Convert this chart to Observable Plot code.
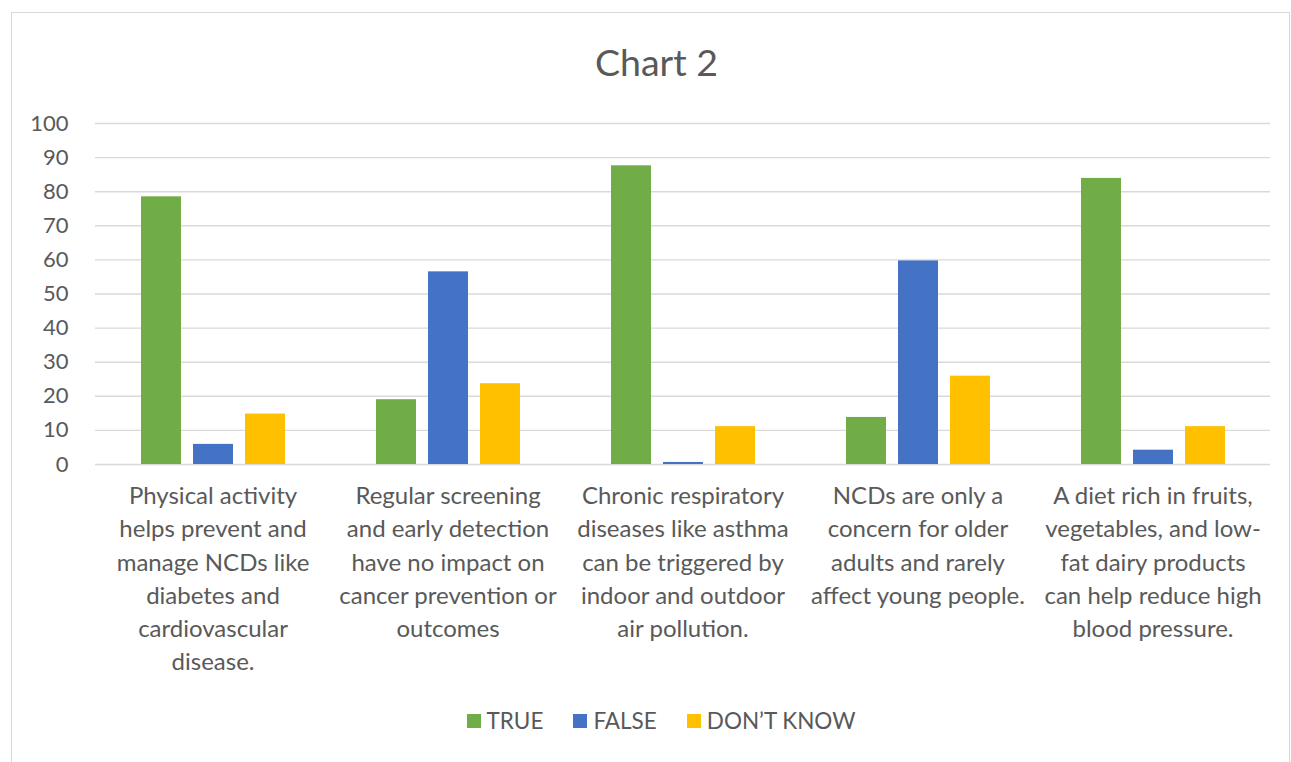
<!DOCTYPE html>
<html>
<head>
<meta charset="utf-8">
<script src="https://cdn.jsdelivr.net/npm/d3@7"></script>
<script src="https://cdn.jsdelivr.net/npm/@observablehq/plot@0.6"></script>
<style>
  html, body { margin: 0; padding: 0; background: #fff; }
  body { width: 1291px; height: 762px; position: relative; overflow: hidden;
         font-family: Lato, "Open Sans", sans-serif; color: #595959; }
  #frame { position: absolute; left: 11px; top: 12px; width: 1279px; height: 752px;
           box-sizing: border-box; border: 1px solid #d9d9d9; background: #fff; }
  #title { position: absolute; left: 12px; right: 0; top: 26px; text-align: center;
           font-size: 37.5px; color: #595959; }
  #chart { position: absolute; left: 0; top: 88px; }
  #legend { position: absolute; left: 21px; right: 0; top: 694px; display: flex;
            justify-content: center; gap: 30px; font-size: 22.5px; color: #595959; }
  .item { display: flex; align-items: center; gap: 6px; }
  .sw { width: 14px; height: 14px; display: inline-block; }
</style>
</head>
<body>
<div id="frame">
  <div id="title">Chart 2</div>
  <div id="chart"></div>
  <div id="legend"></div>
</div>
<script>
// Statements asked about, and the wrapped text shown under each group
const categories = [
  "Physical activity helps prevent and manage NCDs like diabetes and cardiovascular disease.",
  "Regular screening and early detection have no impact on cancer prevention or outcomes",
  "Chronic respiratory diseases like asthma can be triggered by indoor and outdoor air pollution.",
  "NCDs are only a concern for older adults and rarely affect young people.",
  "A diet rich in fruits, vegetables, and low-fat dairy products can help reduce high blood pressure."
];
const categoryLabels = [
  "Physical activity\nhelps prevent and\nmanage NCDs like\ndiabetes and\ncardiovascular\ndisease.",
  "Regular screening\nand early detection\nhave no impact on\ncancer prevention or\noutcomes",
  "Chronic respiratory\ndiseases like asthma\ncan be triggered by\nindoor and outdoor\nair pollution.",
  "NCDs are only a\nconcern for older\nadults and rarely\naffect young people.",
  "A diet rich in fruits,\nvegetables, and low-\nfat dairy products\ncan help reduce high\nblood pressure."
];

// Answer series and their percentages per statement
const series = ["TRUE", "FALSE", "DON\u2019T KNOW"];
const trueValues     = [78.5, 19.0, 87.6, 13.8, 83.9];
const falseValues    = [5.9, 56.5, 0.6, 59.7, 4.2];
const dontKnowValues = [14.8, 23.7, 11.1, 25.9, 11.1];
const colors = ["#70AD47", "#4472C4", "#FFC000"];
const yTicks = [0, 10, 20, 30, 40, 50, 60, 70, 80, 90, 100];

const seriesValues = [trueValues, falseValues, dontKnowValues];
const rows = categories.flatMap((c, i) =>
  series.map((s, j) => ({category: c, series: s, value: seriesValues[j][i]}))
);
const labelOf = new Map(categories.map((c, i) => [c, categoryLabels[i]]));

const chart = Plot.plot({
  width: 1277,
  height: 590,
  marginTop: 22,
  marginLeft: 83,
  marginRight: 19,
  marginBottom: 227,
  style: {color: "#595959", fontFamily: "Lato, 'Open Sans', sans-serif", background: "transparent"},
  fx: {domain: categories, padding: 0, label: null},
  x: {domain: series, paddingInner: 0.24, paddingOuter: 0.86, axis: null},
  y: {domain: [0, 100], label: null},
  color: {domain: series, range: colors},
  marks: [
    Plot.gridY(yTicks, {stroke: "#d9d9d9", strokeOpacity: 1, strokeWidth: 1.4}),
    Plot.barY(rows, {fx: "category", x: "series", y: "value", fill: "series"}),
    Plot.axisY(yTicks, {tickSize: 0, tickPadding: 27, fontSize: 22, label: null}),
    Plot.axisFx({
      anchor: "bottom", tickSize: 0, tickPadding: 16, fontSize: 24, lineHeight: 1.385,
      tickFormat: d => labelOf.get(d), label: null
    })
  ]
});
document.getElementById("chart").appendChild(chart);

// Legend row
const legend = document.getElementById("legend");
series.forEach((s, i) => {
  const item = document.createElement("div");
  item.className = "item";
  const sw = document.createElement("span");
  sw.className = "sw";
  sw.style.background = colors[i];
  const t = document.createElement("span");
  t.textContent = s;
  item.append(sw, t);
  legend.append(item);
});
</script>
</body>
</html>
